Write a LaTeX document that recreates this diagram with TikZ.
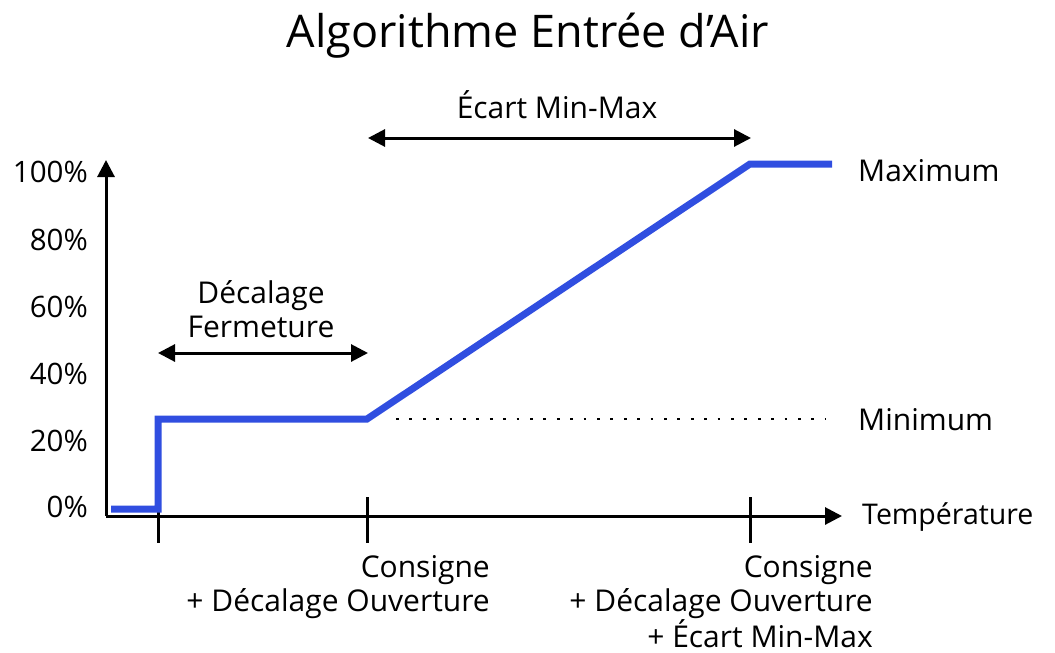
\documentclass[tikz,border=0pt]{standalone}
\usepackage{fontspec}
\setmainfont{Open Sans}
\usetikzlibrary{arrows.meta}
\definecolor{curveblue}{RGB}{48,78,224}
\tikzset{
  axis/.style={line width=3pt, -{Triangle[length=17pt,width=17pt]}},
  dimarrow/.style={line width=3pt, {Triangle[length=17pt,width=17pt]}-{Triangle[length=17pt,width=17pt]}},
  tick/.style={line width=3pt},
  curve/.style={line width=7pt, curveblue, line join=miter},
  lbl/.style={font=\fontsize{30}{34.5}\selectfont, inner sep=0pt},
  ylbl/.style={font=\fontsize{29.5}{34}\selectfont, inner sep=0pt, anchor=east},
}
\begin{document}
\begin{tikzpicture}[x=1pt,y=-1pt]
\useasboundingbox (0,0) rectangle (1055,653);
% title
\node[font=\fontsize{45}{50}\selectfont, inner sep=0pt] (title) at (528,36) {Algorithme Entrée d’Air};
% axes
\coordinate (o) at (106,516);
\coordinate (ytip) at (106,160);
\coordinate (xtip) at (842,516);
\draw[axis] (o) -- (ytip);
\draw[axis] (o) -- (xtip);
% ticks
\coordinate (t1a) at (158,497); \coordinate (t1b) at (158,543);
\coordinate (t2a) at (367,497); \coordinate (t2b) at (367,543);
\coordinate (t3a) at (750,497); \coordinate (t3b) at (750,543);
\draw[tick] (t1a) -- (t1b);
\draw[tick] (t2a) -- (t2b);
\draw[tick] (t3a) -- (t3b);
% y labels
\node[ylbl] (y100) at (88,172) {100\%};
\node[ylbl] (y80) at (88,240) {80\%};
\node[ylbl] (y60) at (88,307) {60\%};
\node[ylbl] (y40) at (88,374) {40\%};
\node[ylbl] (y20) at (88,441) {20\%};
\node[ylbl] (y0) at (88,507) {0\%};
% curve
\coordinate (c0) at (111,509);
\coordinate (c1) at (158,509);
\coordinate (c2) at (158,419);
\coordinate (c3) at (367,419);
\coordinate (c4) at (750,164);
\coordinate (c5) at (832,164);
\draw[curve] (c0) -- (c1) -- (c2) -- (c3) -- (c4) -- (c5);
% dotted minimum line
\coordinate (d0) at (396,419);
\coordinate (d1) at (826,419);
\draw[line width=2.8pt, dash pattern=on 2.8pt off 10.6pt] (d0) -- (d1);
% dimension arrows
\coordinate (e0) at (368,138); \coordinate (e1) at (751,138);
\draw[dimarrow] (e0) -- (e1);
\node[lbl] (ecart) at (557,105) {Écart Min-Max};
\coordinate (f0) at (158,353); \coordinate (f1) at (368,353);
\draw[dimarrow] (f0) -- (f1);
\node[lbl, align=center] (decf) at (261,309) {Décalage\\Fermeture};
% right labels
\node[lbl, anchor=west] (max) at (858,171) {Maximum};
\node[lbl, anchor=west] (min) at (858,420) {Minimum};
\node[lbl, anchor=west, font=\fontsize{28.5}{34}\selectfont] (temp) at (862,517) {Température};
% bottom labels
\node[lbl, align=right, anchor=north east] (cons1) at (490,555) {Consigne\\+ Décalage Ouverture};
\node[lbl, align=right, anchor=north east] (cons2) at (873,555) {Consigne\\+ Décalage Ouverture\\+ Écart Min-Max};
\end{tikzpicture}
\end{document}
